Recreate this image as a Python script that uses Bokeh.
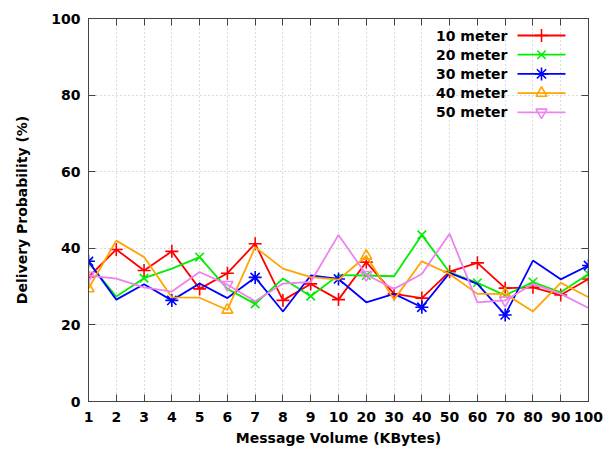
from bokeh.plotting import figure
from bokeh.models import Range1d, FixedTicker, LinearAxis, CustomJSTickFormatter
from bokeh.embed import file_html
from bokeh.resources import INLINE
from bokeh.core.properties import value

# ---------------- data ----------------
volumes = ["1", "2", "3", "4", "5", "6", "7", "8", "9", "10",
           "20", "30", "40", "50", "60", "70", "80", "90", "100"]
series_names = ["10 meter", "20 meter", "30 meter", "40 meter", "50 meter"]
m10 = [32.5, 39.7, 34.2, 39.2, 29.4, 33.5, 41.2, 26.4, 30.7, 26.6,
       36.4, 28.1, 27.0, 33.9, 36.2, 29.6, 29.8, 27.8, 32.0]
m20 = [36.3, 27.4, 32.2, 34.7, 37.7, 29.4, 25.5, 32.1, 27.5, 33.0,
       32.9, 32.7, 43.5, 33.7, 31.0, 27.7, 31.2, 28.5, 33.3]
m30 = [36.6, 26.6, 30.6, 26.4, 30.8, 27.0, 32.4, 23.5, 32.9, 32.0,
       25.9, 28.1, 24.6, 33.6, 30.7, 22.6, 36.8, 31.9, 35.5]
m40 = [29.5, 42.0, 37.7, 27.2, 27.1, 23.9, 40.3, 34.7, 32.5, 31.8,
       38.0, 26.6, 36.6, 33.3, 28.1, 28.1, 23.5, 31.0, 27.2]
m50 = [32.9, 32.1, 29.8, 28.7, 33.8, 30.5, 26.2, 30.8, 31.2, 43.5,
       33.1, 29.4, 33.3, 43.8, 25.9, 26.4, 30.7, 28.1, 24.4]
y_ticks = [0, 20, 40, 60, 80, 100]

series = [m10, m20, m30, m40, m50]
colors = ["#ff0000", "#00ee00", "#0000ff", "#ffa500", "#ee82ee"]
markers = ["cross", "x", "asterisk", "triangle", "inverted_triangle"]
marker_sizes = [13, 12, 13, 11, 11]
point_interval = [1, 2, 3, 5, 5]

# ---------------- layout ----------------
W, H = 603, 449
BL, BR, BT, BB = 88, 15, 18, 48
FW, FH = W - BL - BR, H - BT - BB
FONT = "DejaVu Sans"
AX = "#444444"

xs = list(range(len(volumes)))

p = figure(width=W, height=H, output_backend="svg", toolbar_location=None,
           x_range=Range1d(0, len(volumes) - 1), y_range=Range1d(0, 100),
           min_border_left=BL, min_border_right=BR, min_border_top=BT,
           min_border_bottom=BB)
p.outline_line_color = AX
p.outline_line_width = 1
p.background_fill_color = "white"
p.border_fill_color = "white"

p.extra_x_ranges = {"lg": Range1d(0, FW)}
p.extra_y_ranges = {"lg": Range1d(FH, 0)}

def style_axis(ax):
    ax.major_tick_in = 7
    ax.major_tick_out = 0
    ax.minor_tick_line_color = None
    ax.axis_line_color = AX
    ax.major_tick_line_color = AX
    ax.major_label_text_font = FONT
    ax.major_label_text_font_style = "bold"
    ax.major_label_text_font_size = "14px"
    ax.major_label_text_color = "black"
    ax.axis_label_text_font = FONT
    ax.axis_label_text_font_style = "bold"
    ax.axis_label_text_font_size = "14px"
    ax.axis_label_text_color = "black"

xa = p.xaxis[0]
xa.ticker = FixedTicker(ticks=xs)
xa.major_label_overrides = {i: v for i, v in enumerate(volumes)}
xa.axis_label = "Message Volume (KBytes)"
style_axis(xa)
xa.major_label_standoff = 10
xa.axis_label_standoff = 5

ya = p.yaxis[0]
ya.ticker = FixedTicker(ticks=y_ticks)
ya.axis_label = "Delivery Probability (%)"
style_axis(ya)
ya.major_label_standoff = 8
ya.axis_label_standoff = 18

empty = CustomJSTickFormatter(code="return ''")
top = LinearAxis(ticker=FixedTicker(ticks=xs), formatter=empty)
style_axis(top)
p.add_layout(top, "above")
right = LinearAxis(ticker=FixedTicker(ticks=y_ticks), formatter=empty)
style_axis(right)
p.add_layout(right, "right")

p.xgrid.ticker = FixedTicker(ticks=xs)
p.ygrid.ticker = FixedTicker(ticks=y_ticks)
for g in (p.xgrid, p.ygrid):
    g.grid_line_color = "#b8b8b8"
    g.grid_line_dash = "1 3"
    g.grid_line_width = 1

# ---------------- series ----------------
for vals, c, mk, ms, step in zip(series, colors, markers, marker_sizes, point_interval):
    p.line(xs, vals, line_color=c, line_width=1.8)
    p.scatter(xs[::step], vals[::step], marker=mk, size=ms, line_color=c,
              fill_color=None, line_width=1.6)

# ---------------- legend (text left, sample right) ----------------
row0, row_gap = 17, 19.2
text_right, line_x0, line_x1 = FW - 81, FW - 71, FW - 23
rows = [row0 + i * row_gap for i in range(len(series_names))]
p.text(x=[text_right] * len(rows), y=rows, text=series_names,
       text_align="right", text_baseline="middle", text_font=value(FONT),
       text_font_style="bold", text_font_size="14px", text_color="black",
       x_range_name="lg", y_range_name="lg")
for r, c, mk, ms in zip(rows, colors, markers, marker_sizes):
    p.segment(x0=[line_x0], y0=[r], x1=[line_x1], y1=[r], line_color=c,
              line_width=1.8, x_range_name="lg", y_range_name="lg")
    p.scatter([(line_x0 + line_x1) / 2], [r], marker=mk, size=ms, line_color=c,
              fill_color=None, line_width=1.6, x_range_name="lg", y_range_name="lg")

open("out.html", "w").write(file_html(p, INLINE))
